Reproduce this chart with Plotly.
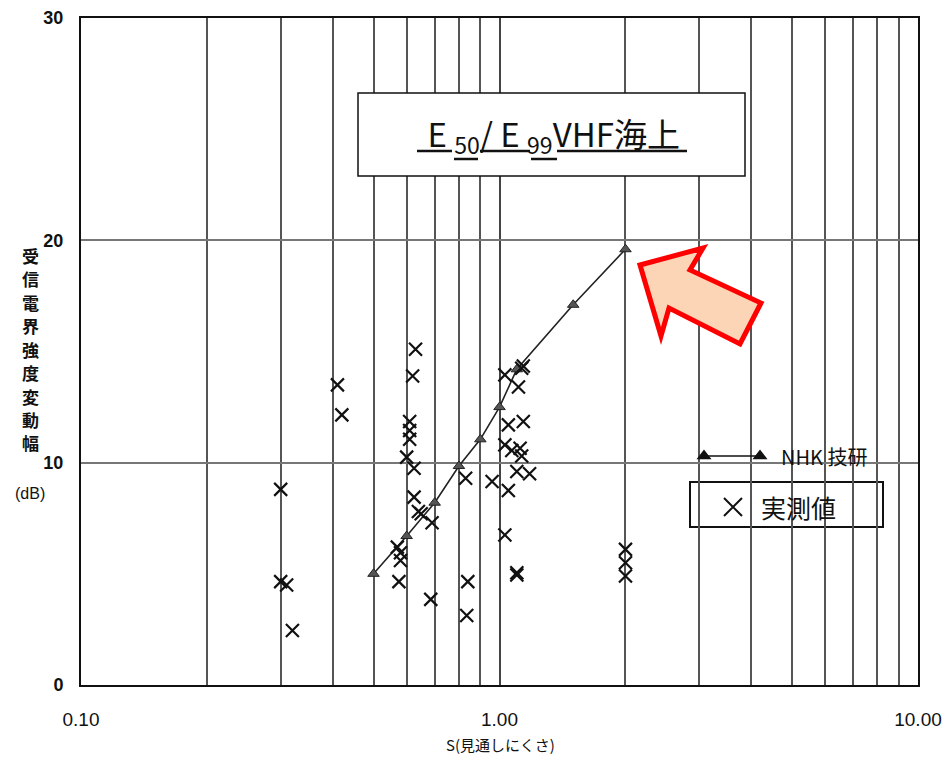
import plotly.graph_objects as go

# NHK 技研 curve
nhk_s = [0.5, 0.6, 0.7, 0.8, 0.9, 1.0, 1.1, 1.5, 2.0]
nhk_db = [5.0, 6.7, 8.2, 9.85, 11.05, 12.5, 14.2, 17.1, 19.6]

# 実測値 (measured)
meas_s = [0.30, 0.30, 0.31, 0.32, 0.41, 0.42,
          0.63, 0.62, 0.61, 0.61, 0.61, 0.60, 0.625, 0.625, 0.64, 0.65, 0.69,
          0.57, 0.58, 0.58, 0.575, 0.685,
          0.83, 0.96, 0.84, 0.835,
          1.03, 1.13, 1.14, 1.11, 1.05, 1.14, 1.03, 1.07, 1.12, 1.13, 1.10, 1.18,
          1.05, 1.03, 1.10, 1.10,
          2.0, 2.0, 2.0]
meas_db = [8.8, 4.65, 4.5, 2.45, 13.5, 12.15,
           15.1, 13.9, 11.85, 11.45, 11.05, 10.25, 9.75, 8.45, 7.8, 7.7, 7.3,
           6.2, 5.95, 5.6, 4.65, 3.85,
           9.3, 9.15, 4.65, 3.13,
           13.95, 14.25, 14.35, 13.4, 11.7, 11.85, 10.8, 10.55, 10.65, 10.3, 9.6, 9.5,
           8.75, 6.75, 5.05, 4.95,
           6.1, 5.5, 4.9]

x_tickvals = [0.1, 1, 10]
x_ticktext = ["0.10", "1.00", "10.00"]
x_minor = [0.2, 0.3, 0.4, 0.5, 0.6, 0.7, 0.8, 0.9, 2, 3, 4, 5, 6, 7, 8, 9]
y_tickvals = [0, 10, 20, 30]

W, H = 946, 764
L, R, T, B = 81, 918, 18, 685


def fx(p):
    return (p - L) / (R - L)


def fy(p):
    return (B - p) / (B - T)


CJK = "Noto Sans CJK JP"
INK = "#111"


def label(text, x, y, size, family=CJK, xanchor="center", **font_kw):
    return dict(text=text, xref="paper", yref="paper", x=fx(x), y=fy(y),
                xanchor=xanchor, yanchor="middle", showarrow=False,
                font=dict(family=family, size=size, color=INK, **font_kw))


fig = go.Figure()

fig.add_trace(go.Scatter(
    x=nhk_s, y=nhk_db, mode="lines+markers",
    line=dict(color="#222", width=1.6),
    marker=dict(symbol="triangle-up", size=10, color="#555",
                line=dict(color="#222", width=1)),
    showlegend=False))

fig.add_trace(go.Scatter(
    x=meas_s, y=meas_db, mode="markers",
    marker=dict(symbol="x-thin-open", size=13, color=INK,
                line=dict(color=INK, width=2.2)),
    showlegend=False))

# legend samples on an overlay axis spanning the plot area
fig.add_trace(go.Scatter(
    x=[fx(704), fx(760)], y=[fy(456), fy(456)], mode="lines+markers",
    xaxis="x2", yaxis="y2",
    line=dict(color=INK, width=1.6),
    marker=dict(symbol="triangle-up", size=13, color=INK),
    showlegend=False))
fig.add_trace(go.Scatter(
    x=[fx(733)], y=[fy(507)], mode="markers",
    xaxis="x2", yaxis="y2",
    marker=dict(symbol="x-thin-open", size=18, color=INK,
                line=dict(color=INK, width=2)),
    showlegend=False))

shapes = [
    # title box
    dict(type="rect", xref="paper", yref="paper",
         x0=fx(358), x1=fx(745), y0=fy(176), y1=fy(93),
         line=dict(color=INK, width=1.5), fillcolor="white", layer="above"),
    # 実測値 box
    dict(type="rect", xref="paper", yref="paper",
         x0=fx(690), x1=fx(883), y0=fy(527), y1=fy(482),
         line=dict(color=INK, width=2), fillcolor="white", layer="between"),
]

# title underline: main line and lowered segments under the subscripts
for x0, x1, yy in [(417, 452, 151), (480, 530, 151), (557, 687, 151),
                   (454, 478, 159), (531, 557, 159)]:
    shapes.append(dict(type="line", xref="paper", yref="paper",
                       x0=fx(x0), x1=fx(x1), y0=fy(yy), y1=fy(yy),
                       line=dict(color=INK, width=2.5), layer="above"))

arrow_px = [(640, 265), (703, 248), (690, 270), (761, 303),
            (740, 344), (669, 308), (661, 336)]
path = "M " + " L ".join(f"{fx(a):.5f},{fy(b):.5f}" for a, b in arrow_px) + " Z"
shapes.append(dict(type="path", xref="paper", yref="paper", path=path,
                   fillcolor="#fbd5b5", line=dict(color="#ff0000", width=5),
                   layer="above"))

annotations = [
    label(" E <sub>50</sub>/ E <sub>99</sub>VHF海上", 550, 135, 33),
    label("NHK 技研", 779, 456, 20, xanchor="left"),
    label("実測値", 759, 507, 25, xanchor="left"),
    label("S(見通しにくさ)", 500, 745, 15),
    label("(dB)", 30, 493, 16, family="Liberation Sans"),
]

ylabel = "受信電界強度変動幅"
for i, ch in enumerate(ylabel):
    annotations.append(label(ch, 30, 255 + i * 23.5, 17, weight="bold"))

fig.update_layout(
    width=W, height=H,
    margin=dict(l=L, r=W - R, t=T, b=H - B, autoexpand=False),
    paper_bgcolor="white", plot_bgcolor="white",
    shapes=shapes, annotations=annotations,
    xaxis=dict(type="log", range=[-1, 1], tickvals=x_tickvals, ticktext=x_ticktext,
               automargin=False,
               showgrid=True, gridcolor="#444", gridwidth=1.5,
               minor=dict(tickvals=x_minor, showgrid=True, gridcolor="#555",
                          gridwidth=1.5, ticks=""),
               showline=True, linecolor=INK, linewidth=2, mirror=True,
               ticks="", ticklabelstandoff=16, zeroline=False,
               tickfont=dict(family="Liberation Sans Narrow, Liberation Sans",
                             size=19, color=INK)),
    yaxis=dict(range=[0, 30], tickvals=y_tickvals, automargin=False,
               showgrid=True, gridcolor="#777", gridwidth=2,
               showline=True, linecolor=INK, linewidth=2, mirror=True,
               ticks="", ticklabelstandoff=12, zeroline=False,
               tickfont=dict(family="Liberation Sans", size=18, color=INK,
                             weight="bold")),
    xaxis2=dict(overlaying="x", range=[0, 1], visible=False, showgrid=False,
                automargin=False),
    yaxis2=dict(overlaying="y", range=[0, 1], visible=False, showgrid=False,
                automargin=False),
)

fig.write_html("out.html")
